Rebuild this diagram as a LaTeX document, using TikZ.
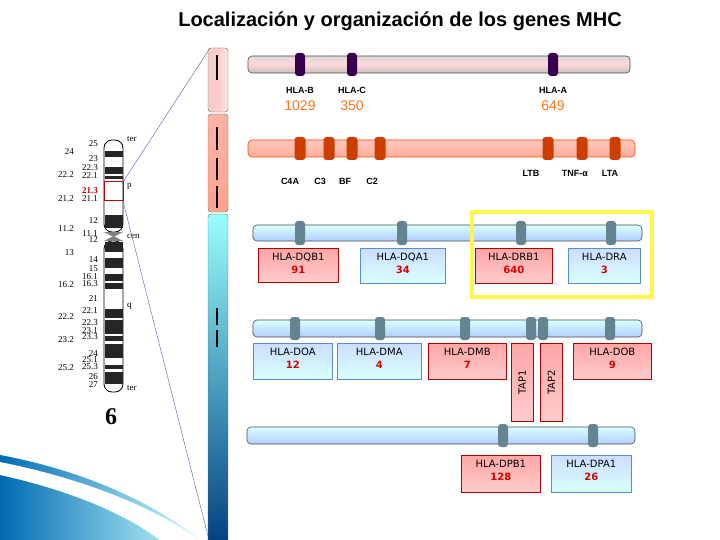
\documentclass[tikz,border=0pt]{standalone}
\usepackage{fontspec}
\setmainfont{Liberation Sans}
\newfontfamily\djvfont{DejaVu Sans}
\newfontfamily\tmsfont{Liberation Serif}
\begin{document}
\begin{tikzpicture}[x=1pt,y=-1pt,
  bar/.style={draw=black!70,rounded corners=4pt,line width=0.6pt},
  mk/.style={rounded corners=3pt},
  rbox/.style={draw=red!70!black,top color=red!35,bottom color=red!20,line width=0.6pt},
  bbox/.style={draw=cyan!50!blue!70,top color=cyan!35!blue!20,bottom color=cyan!15,line width=0.6pt},
  glab/.style={font=\djvfont\fontsize{10}{11}\selectfont},
  num/.style={font=\djvfont\fontsize{10}{11}\selectfont\bfseries,text=red!85!black},
  chl/.style={font=\tmsfont\fontsize{9}{9}\selectfont,anchor=east,inner sep=0pt},
  lbl/.style={font=\fontsize{9}{10}\selectfont\bfseries}]
\useasboundingbox (0,0) rectangle (720,540);
\fill[white] (0,0) rectangle (720,540);
% swoosh
\shade[left color=cyan!60!blue!70!black,right color=cyan!20] (0,455) .. controls (80,470) and (150,500) .. (200,540) -- (0,540) -- cycle;
\fill[white] (0,475) .. controls (60,488) and (120,510) .. (160,540) -- (200,540) .. controls (150,505) and (80,478) .. (0,462) -- cycle;
% title
\node[font=\fontsize{20}{22}\selectfont\bfseries] (title) at (400,21) {Localización y organización de los genes MHC};
% chromosome
\draw[line width=0.8pt,fill=white,rounded corners=8pt] (104,140) rectangle (123,232);
\draw[line width=0.8pt,fill=white,rounded corners=8pt] (104,241) rectangle (123,392);
\fill[gray] (104,232) -- (123,232) -- (113.5,237) -- cycle;
\fill[gray] (104,241) -- (123,241) -- (113.5,236) -- cycle;
\foreach \a/\b in {151/157,167/174,176/179,215/228,242/252,258/268,274/281,283/289,309/318,320/334,336/341,344/358,365/369,372/384}
  \fill[black!85] (104.5,\a) rectangle (122.5,\b);
\draw[red!75!black,line width=1pt] (104,182) rectangle (123,201);
\foreach \y/\t in {144/25,159/23,168/22.3,176/22.1,199/21.1,221/12,234/11.1,240/12,260/14,269/15,277/16.1,284/16.3,299/21,311/22.1,323/22.3,331/23.1,337/23.3,354/24,360/25.1,367/25.3,377/26,385/27}
  \node[chl] at (98,\y) {\t};
\node[chl,text=red!75!black,font=\tmsfont\fontsize{9}{9}\selectfont\bfseries] at (98,191) {21.3};
\foreach \y/\t in {152/24,175/22.2,199/21.2,229/11.2,253/13,285/16.2,317/22.2,340/23.2,368/25.2}
  \node[chl] at (74,\y) {\t};
\foreach \y/\t in {139/ter,186/p,236/cen,306/q,388/ter}
  \node[font=\tmsfont\fontsize{9}{9}\selectfont,anchor=west,inner sep=0pt] at (127,\y) {\t};
\node[font=\tmsfont\fontsize{24}{24}\selectfont\bfseries] (six) at (111,417) {6};
\coordinate (ct) at (123,182); \coordinate (cb) at (123,201);
\coordinate (vt) at (210,48); \coordinate (vb) at (209,540);
\draw[cyan!50!blue!70!black,line width=0.4pt] (ct) -- (vt);
\draw[cyan!50!blue!70!black,line width=0.4pt] (cb) -- (vb);
% vertical bar
\shade[draw=black!60,rounded corners=3pt,left color=black!20!red!20,right color=black!10!red!10,middle color=white!80!red] (208,48) rectangle (228,112);
\shade[draw=black!60,rounded corners=3pt,top color=orange!30!red!35,bottom color=orange!40!red!45] (208,114) rectangle (228,212);
\shade[draw=black!60,rounded corners=3pt,top color=cyan!40!white,bottom color=cyan!50!blue!50!black] (208,214) rectangle (228,545);
\foreach \a/\b in {55/80,127/150,158/180,186/208,308/325,330/347}
  \draw[line width=2.2pt] (217,\a) -- (217,\b);
% row1
\shade[bar,top color=red!10!black!15,bottom color=red!15!black!25,middle color=white!85!red] (248,56) rectangle (630,73);
\foreach \x in {300,352,553} \fill[mk,fill=black!70!red!70!blue] (\x-5,53) rectangle (\x+5,76);
\foreach \x/\t/\n in {300/HLA-B/1029,352/HLA-C/350,553/HLA-A/649}{
  \node[lbl] at (\x,90) {\t};
  \node[font=\fontsize{14}{15}\selectfont,text=orange!80!red!90] at (\x,106) {\n};}
% row2
\shade[bar,draw=orange!60!red,top color=orange!20!red!25,bottom color=orange!40!red!40] (248,140) rectangle (635,157);
\foreach \x in {300,329,352,380,548,582,615} \fill[mk,fill=orange!60!red!80!black] (\x-5.5,137) rectangle (\x+5.5,160);
\foreach \x/\t in {290/C4A,320/C3,345/BF,372/C2} \node[lbl] at (\x,181) {\t};
\foreach \x/\t in {531/LTB,575/TNF-α,610/LTA} \node[lbl] at (\x,173) {\t};
% row3
\shade[bar,top color=cyan!15,bottom color=cyan!35!blue!30] (253,225) rectangle (642,241);
\foreach \x in {300,402,521,611} \fill[mk,fill=cyan!40!black!80] (\x-5,221) rectangle (\x+5,245);
\draw[yellow!70,line width=4.5pt] (472,212) rectangle (652,297);
\node[rbox,minimum width=80pt,minimum height=34pt,anchor=north west,inner sep=0pt] (dqb) at (258,248) {};
\node[bbox,minimum width=85pt,minimum height=35pt,anchor=north west,inner sep=0pt] (dqa) at (360,248) {};
\node[rbox,minimum width=77pt,minimum height=35pt,anchor=north west,inner sep=0pt] (drb) at (475,248) {};
\node[bbox,minimum width=72pt,minimum height=35pt,anchor=north west,inner sep=0pt] (dra) at (568,248) {};
% row4
\shade[bar,top color=cyan!15,bottom color=cyan!35!blue!30] (253,320) rectangle (642,337);
\foreach \x in {295,380,465,531,543,610} \fill[mk,fill=cyan!40!black!80] (\x-5,317) rectangle (\x+5,340);
\node[bbox,minimum width=79pt,minimum height=36pt,anchor=north west,inner sep=0pt] (doa) at (253,343) {};
\node[bbox,minimum width=84pt,minimum height=36pt,anchor=north west,inner sep=0pt] (dma) at (337,343) {};
\node[rbox,minimum width=78pt,minimum height=36pt,anchor=north west,inner sep=0pt] (dmb) at (428,343) {};
\node[rbox,minimum width=22pt,minimum height=78pt,anchor=north west,inner sep=0pt] (tap1) at (511,343) {};
\node[rbox,minimum width=22pt,minimum height=78pt,anchor=north west,inner sep=0pt] (tap2) at (540,343) {};
\node[rbox,minimum width=78pt,minimum height=36pt,anchor=north west,inner sep=0pt] (dob) at (573,343) {};
% row5
\shade[bar,top color=cyan!15,bottom color=cyan!35!blue!30] (247,427) rectangle (635,444);
\foreach \x in {503,593} \fill[mk,fill=cyan!40!black!80] (\x-5,424) rectangle (\x+5,447);
\node[rbox,minimum width=79pt,minimum height=37pt,anchor=north west,inner sep=0pt] (dpb) at (461,455) {};
\node[bbox,minimum width=80pt,minimum height=37pt,anchor=north west,inner sep=0pt] (dpa) at (551,455) {};
% box texts
\foreach \n/\t/\v in {dqb/HLA-DQB1/91,dqa/HLA-DQA1/34,drb/HLA-DRB1/640,dra/HLA-DRA/3,doa/HLA-DOA/12,dma/HLA-DMA/4,dmb/HLA-DMB/7,dob/HLA-DOB/9,dpb/HLA-DPB1/128,dpa/HLA-DPA1/26}{
  \node[glab] at ([yshift=-9pt]\n.north) {\t};
  \node[num] at ([yshift=-22pt]\n.north) {\v};}
\node[glab,rotate=90] at (tap1) {TAP1};
\node[glab,rotate=90] at (tap2) {TAP2};
\end{tikzpicture}
\end{document}
